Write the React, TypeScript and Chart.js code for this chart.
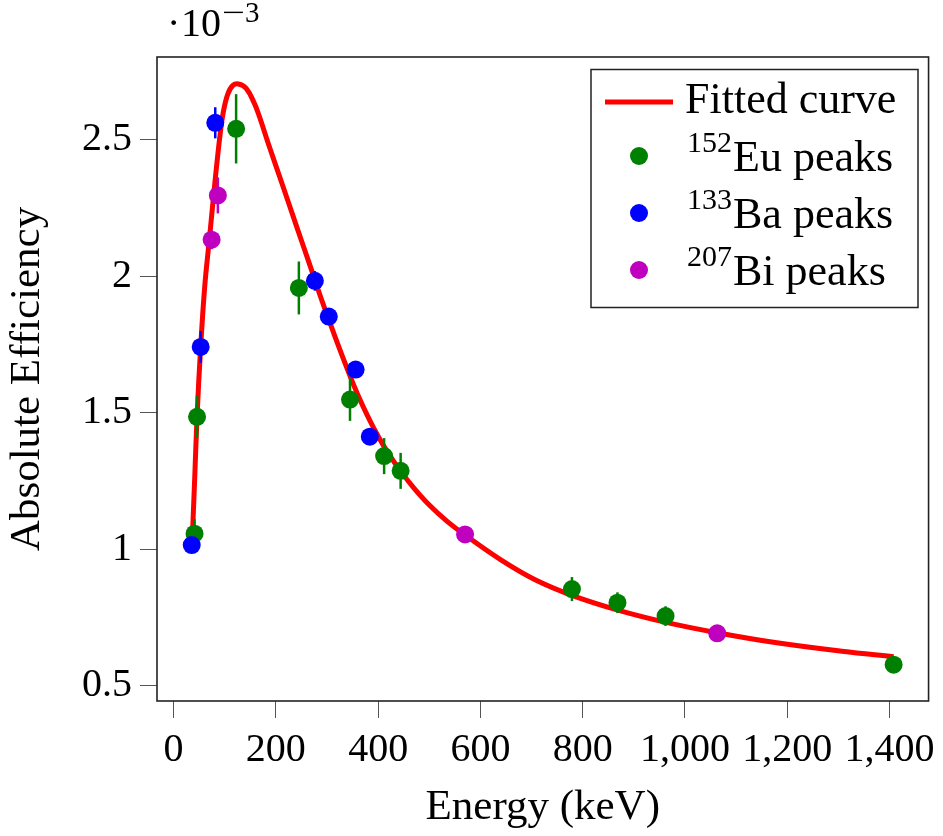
import React, { useEffect, useRef } from "react";
import { Chart, registerables } from "chart.js";

Chart.register(...registerables);

// ---- Data ----
const FIT_E = [37.5, 41.5, 45.9, 53, 61, 70, 79, 85, 91, 97, 106, 116, 127, 142, 158, 168, 187, 213, 239, 265, 290, 304, 320, 345, 360, 380, 400, 420, 444, 470, 500, 535, 570, 640, 706, 779, 867, 963, 1063, 1173, 1307, 1408];
const FIT_EFF = [1.08, 1.27, 1.486, 1.742, 1.965, 2.136, 2.31, 2.42, 2.52, 2.6, 2.668, 2.7, 2.705, 2.689, 2.634, 2.585, 2.477, 2.335, 2.192, 2.05, 1.912, 1.84, 1.758, 1.636, 1.568, 1.487, 1.415, 1.352, 1.287, 1.225, 1.163, 1.103, 1.053, 0.962, 0.89, 0.832, 0.779, 0.733, 0.695, 0.66, 0.627, 0.607];

const EU_E = [41, 45.9, 122.3, 245, 345, 411.7, 444, 779, 868, 962, 1408];
const EU_EFF = [1.058, 1.486, 2.541, 1.958, 1.549, 1.342, 1.288, 0.855, 0.805, 0.756, 0.578];
const EU_ERR = [0.053, 0.078, 0.127, 0.097, 0.078, 0.066, 0.066, 0.044, 0.038, 0.036, 0.01];

const BA_E = [35.5, 53, 81.5, 276.3, 303.5, 356, 383.7];
const BA_EFF = [1.016, 1.742, 2.563, 1.984, 1.853, 1.659, 1.413];
const BA_ERR = [0.02, 0.058, 0.057, 0.036, 0.025, 0.02, 0.02];

const BI_E = [74.4, 86.6, 570, 1063];
const BI_EFF = [2.135, 2.297, 1.055, 0.693];
const BI_ERR = [0.035, 0.066, 0.015, 0.01];

const X_TICKS = [0, 200, 400, 600, 800, 1000, 1200, 1400];
const Y_TICKS = [0.5, 1, 1.5, 2, 2.5];
const X_TITLE = "Energy (keV)";
const Y_TITLE = "Absolute Efficiency";
const SCALE_MANTISSA = "10";
const SCALE_EXPONENT = "3";

const LEGEND_SUPS = ["", "152", "133", "207"];
const LEGEND_TEXTS = ["Fitted curve", "Eu peaks", "Ba peaks", "Bi peaks"];

const COLORS = {
  fit: "#ff0000",
  eu: "#008000",
  ba: "#0000ff",
  bi: "#bf00bf",
};

const FONT = '"Liberation Serif", "Times New Roman", serif';

function pts(xs: number[], ys: number[]) {
  return xs.map((x, i) => ({ x, y: ys[i] }));
}

const errorBarPlugin = {
  id: "errorBars",
  beforeDatasetDraw(chart: any, args: any) {
    const ds = chart.data.datasets[args.index];
    if (!ds.errors) return;
    const { ctx, scales } = chart;
    const xs = scales.x;
    const ys = scales.y;
    ctx.save();
    ctx.strokeStyle = ds.backgroundColor;
    ctx.lineWidth = 2.5;
    ds.data.forEach((p: any, i: number) => {
      const e = ds.errors[i];
      const px = xs.getPixelForValue(p.x);
      ctx.beginPath();
      ctx.moveTo(px, ys.getPixelForValue(p.y - e));
      ctx.lineTo(px, ys.getPixelForValue(p.y + e));
      ctx.stroke();
    });
    ctx.restore();
  },
};

const framePlugin = {
  id: "frame",
  afterDraw(chart: any) {
    const { ctx, chartArea: a } = chart;
    ctx.save();
    ctx.strokeStyle = "#222";
    ctx.lineWidth = 1.6;
    ctx.strokeRect(a.left, a.top, a.right - a.left, a.bottom - a.top);

    // scale factor label  ·10^-3
    ctx.fillStyle = "#000";
    ctx.textBaseline = "alphabetic";
    ctx.textAlign = "left";
    ctx.font = `40px ${FONT}`;
    ctx.fillText("\u00B7", 167, 36);
    ctx.fillText(SCALE_MANTISSA, 181, 36);
    ctx.font = `29px ${FONT}`;
    ctx.save();
    ctx.translate(222, 22);
    ctx.scale(1.4, 1);
    ctx.fillText("\u2212", 0, 0);
    ctx.restore();
    ctx.fillText(SCALE_EXPONENT, 245, 22);
    ctx.restore();
  },
};

const legendPlugin = {
  id: "customLegend",
  afterDraw(chart: any) {
    const { ctx } = chart;
    const ds = chart.data.datasets;
    const boxL = 591, boxT = 69.5, boxW = 327, boxH = 238;
    ctx.save();
    ctx.fillStyle = "#fff";
    ctx.fillRect(boxL, boxT, boxW, boxH);
    ctx.strokeStyle = "#222";
    ctx.lineWidth = 1.5;
    ctx.strokeRect(boxL, boxT, boxW, boxH);

    const baselines = [113, 170.5, 227.5, 284.5];
    ctx.textAlign = "left";
    ctx.textBaseline = "alphabetic";
    for (let i = 0; i < LEGEND_TEXTS.length; i++) {
      const base = baselines[i];
      const d = ds[i];
      if (i === 0) {
        ctx.strokeStyle = d.borderColor;
        ctx.lineWidth = 5;
        ctx.beginPath();
        ctx.moveTo(605, base - 11);
        ctx.lineTo(673, base - 11);
        ctx.stroke();
        ctx.fillStyle = "#000";
        ctx.font = `44px ${FONT}`;
        ctx.fillText(LEGEND_TEXTS[i], 685, base);
      } else {
        ctx.fillStyle = d.backgroundColor;
        ctx.beginPath();
        ctx.arc(639, base - 14.5, 9, 0, Math.PI * 2);
        ctx.fill();
        ctx.fillStyle = "#000";
        ctx.font = `30px ${FONT}`;
        ctx.fillText(LEGEND_SUPS[i], 687, base - 19);
        const w = ctx.measureText(LEGEND_SUPS[i]).width;
        ctx.font = `44px ${FONT}`;
        ctx.fillText(LEGEND_TEXTS[i], 687 + w + 1, base);
      }
    }
    ctx.restore();
  },
};

export default function App() {
  const ref = useRef<HTMLCanvasElement | null>(null);

  useEffect(() => {
    if (!ref.current) return;
    const chart = new Chart(ref.current, {
      type: "scatter",
      data: {
        datasets: [
          {
            label: LEGEND_TEXTS[0],
            data: pts(FIT_E, FIT_EFF),
            showLine: true,
            borderColor: COLORS.fit,
            backgroundColor: COLORS.fit,
            borderWidth: 5,
            pointRadius: 0,
            tension: 0.4,
            order: 10,
          } as any,
          {
            label: LEGEND_SUPS[1] + LEGEND_TEXTS[1],
            data: pts(EU_E, EU_EFF),
            errors: EU_ERR,
            backgroundColor: COLORS.eu,
            borderColor: COLORS.eu,
            borderWidth: 0,
            pointRadius: 9,
            order: 3,
          } as any,
          {
            label: LEGEND_SUPS[2] + LEGEND_TEXTS[2],
            data: pts(BA_E, BA_EFF),
            errors: BA_ERR,
            backgroundColor: COLORS.ba,
            borderColor: COLORS.ba,
            borderWidth: 0,
            pointRadius: 9,
            order: 2,
          } as any,
          {
            label: LEGEND_SUPS[3] + LEGEND_TEXTS[3],
            data: pts(BI_E, BI_EFF),
            errors: BI_ERR,
            backgroundColor: COLORS.bi,
            borderColor: COLORS.bi,
            borderWidth: 0,
            pointRadius: 9,
            order: 1,
          } as any,
        ],
      },
      options: {
        responsive: false,
        animation: false,
        devicePixelRatio: 1,
        layout: { padding: { left: 0, right: 9, top: 57, bottom: 0 } },
        plugins: {
          legend: { display: false },
          tooltip: { enabled: false },
        },
        scales: {
          x: {
            type: "linear",
            min: -32.4,
            max: 1476.3,
            afterBuildTicks: (s: any) => {
              s.ticks = X_TICKS.map((v) => ({ value: v }));
            },
            afterFit: (s: any) => {
              s.height = 135;
            },
            grid: {
              drawOnChartArea: false,
              drawTicks: true,
              tickLength: 17,
              color: "#555",
              lineWidth: 1,
            },
            border: { display: false },
            ticks: {
              autoSkip: false,
              maxRotation: 0,
              minRotation: 0,
              padding: 8,
              color: "#000",
              font: { family: FONT, size: 40 },
              callback: (v: any) => Number(v).toLocaleString("en-US"),
            },
            title: {
              display: true,
              text: X_TITLE,
              color: "#000",
              font: { family: FONT, size: 43 },
              padding: { top: 0, bottom: 2 },
            },
          },
          y: {
            type: "linear",
            min: 0.445,
            max: 2.804,
            afterBuildTicks: (s: any) => {
              s.ticks = Y_TICKS.map((v) => ({ value: v }));
            },
            afterFit: (s: any) => {
              s.width = 157;
            },
            grid: {
              drawOnChartArea: false,
              drawTicks: true,
              tickLength: 17,
              color: "#555",
              lineWidth: 1,
            },
            border: { display: false },
            ticks: {
              autoSkip: false,
              padding: 8,
              color: "#000",
              font: { family: FONT, size: 40 },
              callback: (v: any) => String(v),
            },
            title: {
              display: true,
              text: Y_TITLE,
              color: "#000",
              font: { family: FONT, size: 43 },
              padding: { top: 2, bottom: 0 },
            },
          },
        },
      },
      plugins: [errorBarPlugin, framePlugin, legendPlugin],
    });
    return () => chart.destroy();
  }, []);

  return (
    <div style={{ position: "absolute", left: 0, top: 0, width: 943, height: 836, background: "#fff" }}>
      <canvas ref={ref} width={943} height={836} style={{ display: "block" }} />
    </div>
  );
}
